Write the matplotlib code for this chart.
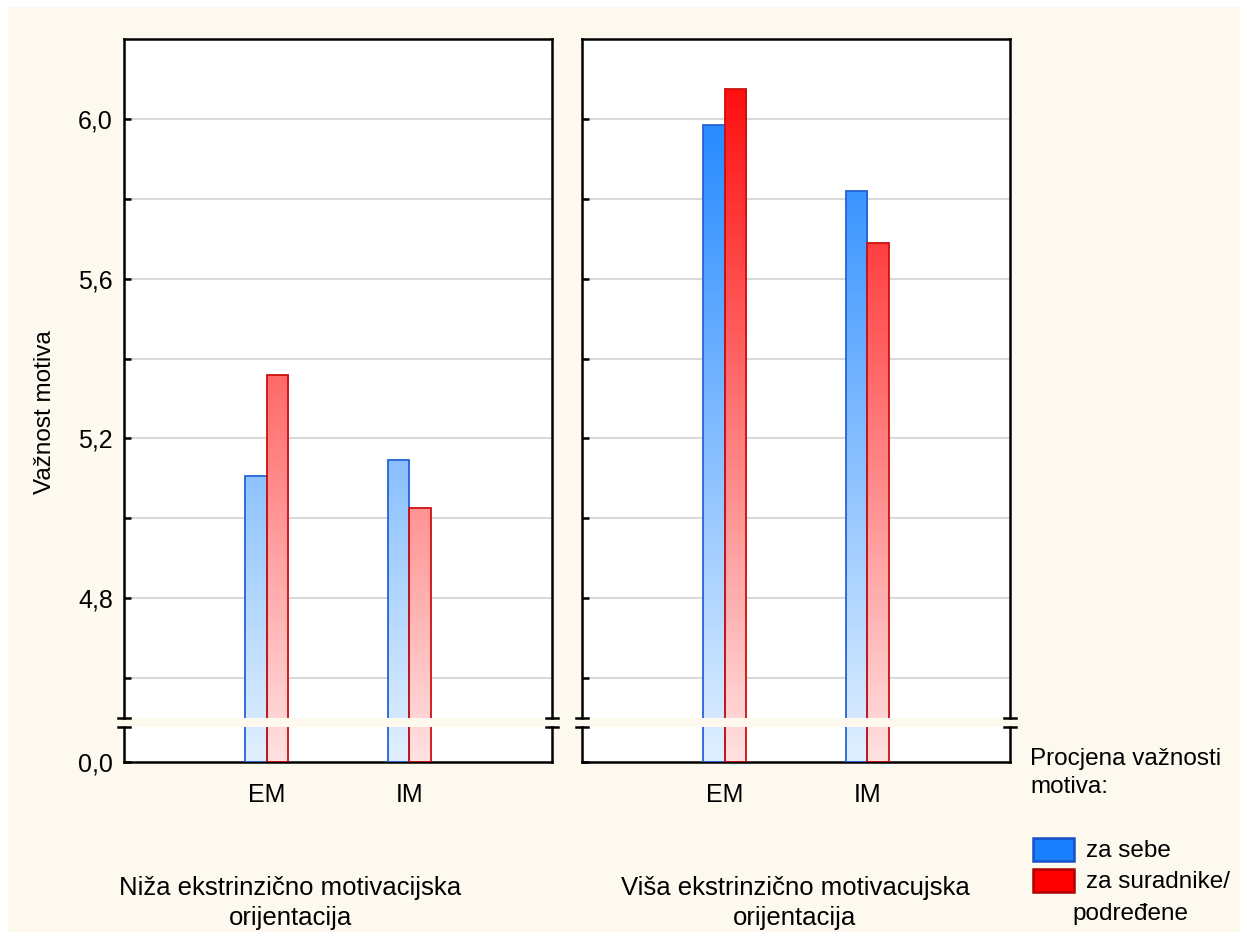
import numpy as np
import matplotlib
matplotlib.use("Agg")
import matplotlib.pyplot as plt
from matplotlib.patches import Rectangle
from matplotlib.lines import Line2D

plt.rcParams['font.family'] = ['Liberation Sans', 'DejaVu Sans']

# data
categories = ["EM", "IM"]
panel_titles = ["Niža ekstrinzično motivacijska\norijentacija",
                "Viša ekstrinzično motivacujska\norijentacija"]
series_names = ["za sebe", "za suradnike/\npodređene"]
# values[panel][series][category]
values = [
    [[5.105, 5.145], [5.36, 5.025]],
    [[5.985, 5.82], [6.075, 5.69]],
]
legend_title = "Procjena važnosti\nmotiva:"
y_label = "Važnost motiva"
major_ticks = [4.8, 5.2, 5.6, 6.0]
minor_ticks = [4.6, 5.0, 5.4, 5.8]

W, H = 1247, 939
CREAM = "#FDF9EE"
light = [np.array([225, 240, 255]) / 255, np.array([255, 226, 226]) / 255]
full = [np.array([15, 125, 255]) / 255, np.array([255, 0, 0]) / 255]
edges = ["#2563D6", "#CC1010"]
legend_fill = ["#1A80FF", "#FF0000"]
legend_edge = ["#1450C8", "#B00000"]

# geometry (pixels from top-left)
top_px, brk_hi, brk_lo, bot_px = 39, 718, 727, 762
panels_x = [(124, 552), (582, 1010)]
span = bot_px - top_px


def fx(px):
    return px / W


def fy(py):
    return 1 - py / H


def grad_img(k, f0, f1, n=256):
    f = np.linspace(f0, f1, n)[:, None]
    rgb = light[k][None, :] * (1 - f) + full[k][None, :] * f
    return rgb[:, None, :]


fig = plt.figure(figsize=(W / 100, H / 100), dpi=100, facecolor="white")
fig.add_artist(Rectangle((fx(8), fy(932)), fx(1240 - 8), (932 - 7) / H,
                         transform=fig.transFigure, facecolor=CREAM,
                         edgecolor="none", zorder=-10))

x = np.arange(len(categories))
bw = 0.15
for p, (x0, x1) in enumerate(panels_x):
    ax_up = fig.add_axes([fx(x0), fy(brk_hi), fx(x1 - x0), (brk_hi - top_px) / H])
    ax_lo = fig.add_axes([fx(x0), fy(bot_px), fx(x1 - x0), (bot_px - brk_lo) / H])
    f_up = ((bot_px - brk_hi) / span, 1.0)
    f_lo = (0.0, (bot_px - brk_lo) / span)
    for ax, (ymin, ymax), (fa, fb) in [(ax_up, (4.5, 6.2), f_up),
                                       (ax_lo, (0.0, 1.0), f_lo)]:
        ax.set_facecolor("white")
        for k in range(2):
            offs = -bw / 2 if k == 0 else bw / 2
            hts = values[p][k] if ax is ax_up else [5.0, 5.0]
            bars = ax.bar(x + offs, hts, bw, facecolor="none",
                          edgecolor=edges[k], linewidth=1.3, zorder=3)
            for b in bars:
                im = ax.imshow(grad_img(k, fa, fb), origin="lower", aspect="auto",
                               extent=(-1, 2, ymin, ymax), zorder=2)
                im.set_clip_path(b)
        ax.set_xlim(-1, 2)
        ax.set_ylim(ymin, ymax)
        for s in ax.spines.values():
            s.set_linewidth(1.8)
            s.set_color("black")
        ax.tick_params(direction="in", length=5, width=1.8, colors="black",
                       labelsize=18, pad=8)
        ax.tick_params(which="minor", direction="in", length=5, width=1.8)

    ax_up.spines["bottom"].set_visible(False)
    ax_lo.spines["top"].set_visible(False)
    ax_up.set_xticks([])
    ax_up.set_yticks(major_ticks)
    ax_up.set_yticks(minor_ticks, minor=True)
    ax_up.grid(True, which="both", axis="y", color="#D9D9D9", linewidth=1.5, zorder=1)
    ax_up.set_axisbelow(True)
    ax_lo.set_yticks([0.0])
    ax_lo.set_xticks(x)
    ax_lo.set_xticklabels(categories)
    ax_lo.tick_params(axis="x", pad=15)
    if p == 0:
        ax_up.set_yticklabels([f"{t:.1f}".replace(".", ",") for t in major_ticks])
        ax_lo.set_yticklabels(["0,0"])
    else:
        ax_up.set_yticklabels([])
        ax_lo.set_yticklabels([])

    # break marks
    for sx in (x0, x1):
        for by in (brk_hi, brk_lo):
            fig.add_artist(Line2D([fx(sx - 6), fx(sx + 6)], [fy(by), fy(by)],
                                  transform=fig.transFigure, color="black",
                                  linewidth=1.8))

fig.text(fx(290), fy(903), panel_titles[0], ha="center", va="center",
         fontsize=18.5, linespacing=1.3)
fig.text(fx(795), fy(903), panel_titles[1], ha="center", va="center",
         fontsize=18.5, linespacing=1.3)
fig.text(fx(45), fy(412), y_label, rotation=90, ha="center", va="center",
         fontsize=17.5)

# legend
fig.text(fx(1030), fy(773), legend_title, ha="left", va="center",
         fontsize=17.5, linespacing=1.35)
for k in range(len(series_names)):
    ytop = 838 + k * 31
    fig.add_artist(Rectangle((fx(1033), fy(ytop + 23)), fx(41), 23 / H,
                             transform=fig.transFigure, facecolor=legend_fill[k],
                             edgecolor=legend_edge[k], linewidth=1.8))
first, second = series_names[1].split("\n")
fig.text(fx(1086), fy(851), series_names[0], ha="left", va="center", fontsize=17.5)
fig.text(fx(1086), fy(882), first, ha="left", va="center", fontsize=17.5)
fig.text(fx(1072), fy(914), second, ha="left", va="center", fontsize=17.5)

fig.savefig("out.png", dpi=100, facecolor=fig.get_facecolor())
